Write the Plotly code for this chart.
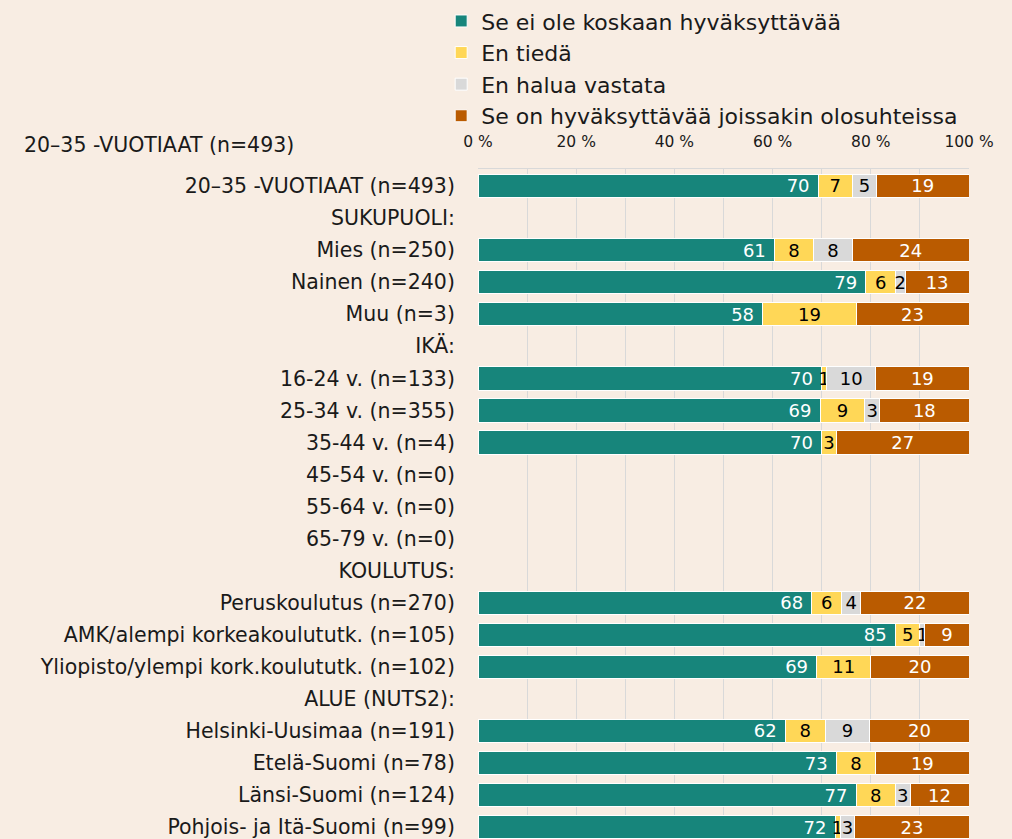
import plotly.graph_objects as go

categories = [
    "20–35 -VUOTIAAT (n=493)", "SUKUPUOLI:", "Mies (n=250)", "Nainen (n=240)", "Muu (n=3)",
    "IKÄ:", "16-24 v. (n=133)", "25-34 v. (n=355)", "35-44 v. (n=4)", "45-54 v. (n=0)",
    "55-64 v. (n=0)", "65-79 v. (n=0)", "KOULUTUS:", "Peruskoulutus (n=270)",
    "AMK/alempi korkeakoulututk. (n=105)", "Yliopisto/ylempi kork.koulututk. (n=102)",
    "ALUE (NUTS2):", "Helsinki-Uusimaa (n=191)", "Etelä-Suomi (n=78)", "Länsi-Suomi (n=124)",
    "Pohjois- ja Itä-Suomi (n=99)",
]
series_names = ["Se ei ole koskaan hyväksyttävää", "En tiedä", "En halua vastata",
                "Se on hyväksyttävää joissakin olosuhteissa"]
never = [70, None, 61, 79, 58, None, 70, 69, 70, None, None, None, None, 68, 85, 69, None, 62, 73, 77, 72]
dont_know = [7, None, 8, 6, 19, None, 1, 9, 3, None, None, None, None, 6, 5, 11, None, 8, 8, 8, 1]
no_answer = [5, None, 8, 2, 0, None, 10, 3, 0, None, None, None, None, 4, 1, 0, None, 9, 0, 3, 3]
sometimes = [19, None, 24, 13, 23, None, 19, 18, 27, None, None, None, None, 22, 9, 20, None, 20, 19, 12, 23]
tick_vals = [0, 20, 40, 60, 80, 100]
tick_text = ["0 %", "20 %", "40 %", "60 %", "80 %", "100 %"]
header = "20–35 -VUOTIAAT (n=493)"

colors = ["#17857B", "#FFD757", "#D9D9D9", "#BA5B00"]
text_colors = ["white", "black", "black", "white"]
FONT = "DejaVu Sans"

fig = go.Figure()
for i, (name, vals) in enumerate(zip(series_names, [never, dont_know, no_answer, sometimes])):
    if i == 0:
        txt = [f"{v}\u00a0" if v else "" for v in vals]
    else:
        txt = [str(v) if v else "" for v in vals]
    fig.add_trace(go.Bar(
        y=categories, x=vals, name=name, orientation="h",
        marker=dict(color=colors[i], line=dict(color="white", width=1)),
        text=txt, textposition="inside", textangle=0, constraintext="none",
        insidetextanchor="end" if i == 0 else "middle",
        textfont=dict(color=text_colors[i], size=18, family=FONT),
        hoverinfo="skip",
    ))

fig.update_layout(
    barmode="stack", barnorm="percent", bargap=0.27,
    width=1012, height=839,
    margin=dict(l=478, r=43, t=165, b=0),
    paper_bgcolor="#F8EDE3", plot_bgcolor="#F8EDE3",
    font=dict(family=FONT, color="#1a1a1a"),
    showlegend=True,
    legend=dict(orientation="v", x=-0.075, xanchor="left", y=1.252, yanchor="top",
                traceorder="normal", font=dict(size=22, family=FONT, color="#1a1a1a"),
                bgcolor="rgba(0,0,0,0)", itemwidth=30),
    annotations=[dict(text=header, xref="paper", yref="paper", x=-0.929, y=1.036,
                      xanchor="left", yanchor="middle", showarrow=False,
                      font=dict(size=20.5, family=FONT, color="#1a1a1a"))],
)
fig.update_xaxes(side="top", range=[0, 100], tickmode="array", tickvals=tick_vals, ticktext=tick_text,
                 tickfont=dict(size=15.5, family=FONT, color="#1a1a1a"),
                 ticks="outside", ticklen=15, tickcolor="rgba(0,0,0,0)",
                 showgrid=True, gridcolor="#D9D9D9", gridwidth=1,
                 minor=dict(dtick=10, showgrid=True, gridcolor="#D9D9D9", gridwidth=1),
                 zeroline=False, showline=True, linecolor="#D9D9D9", mirror=False)
fig.update_yaxes(categoryorder="array", categoryarray=categories,
                 range=[20.37, -0.53], autorange=False,
                 tickfont=dict(size=20.5, family=FONT, color="#1a1a1a"),
                 ticks="outside", ticklen=18, tickcolor="rgba(0,0,0,0)",
                 showgrid=False, zeroline=False)

fig.write_html("out.html", config={"displayModeBar": False},
               post_script="document.body.style.margin='0';document.body.style.overflow='hidden';")
